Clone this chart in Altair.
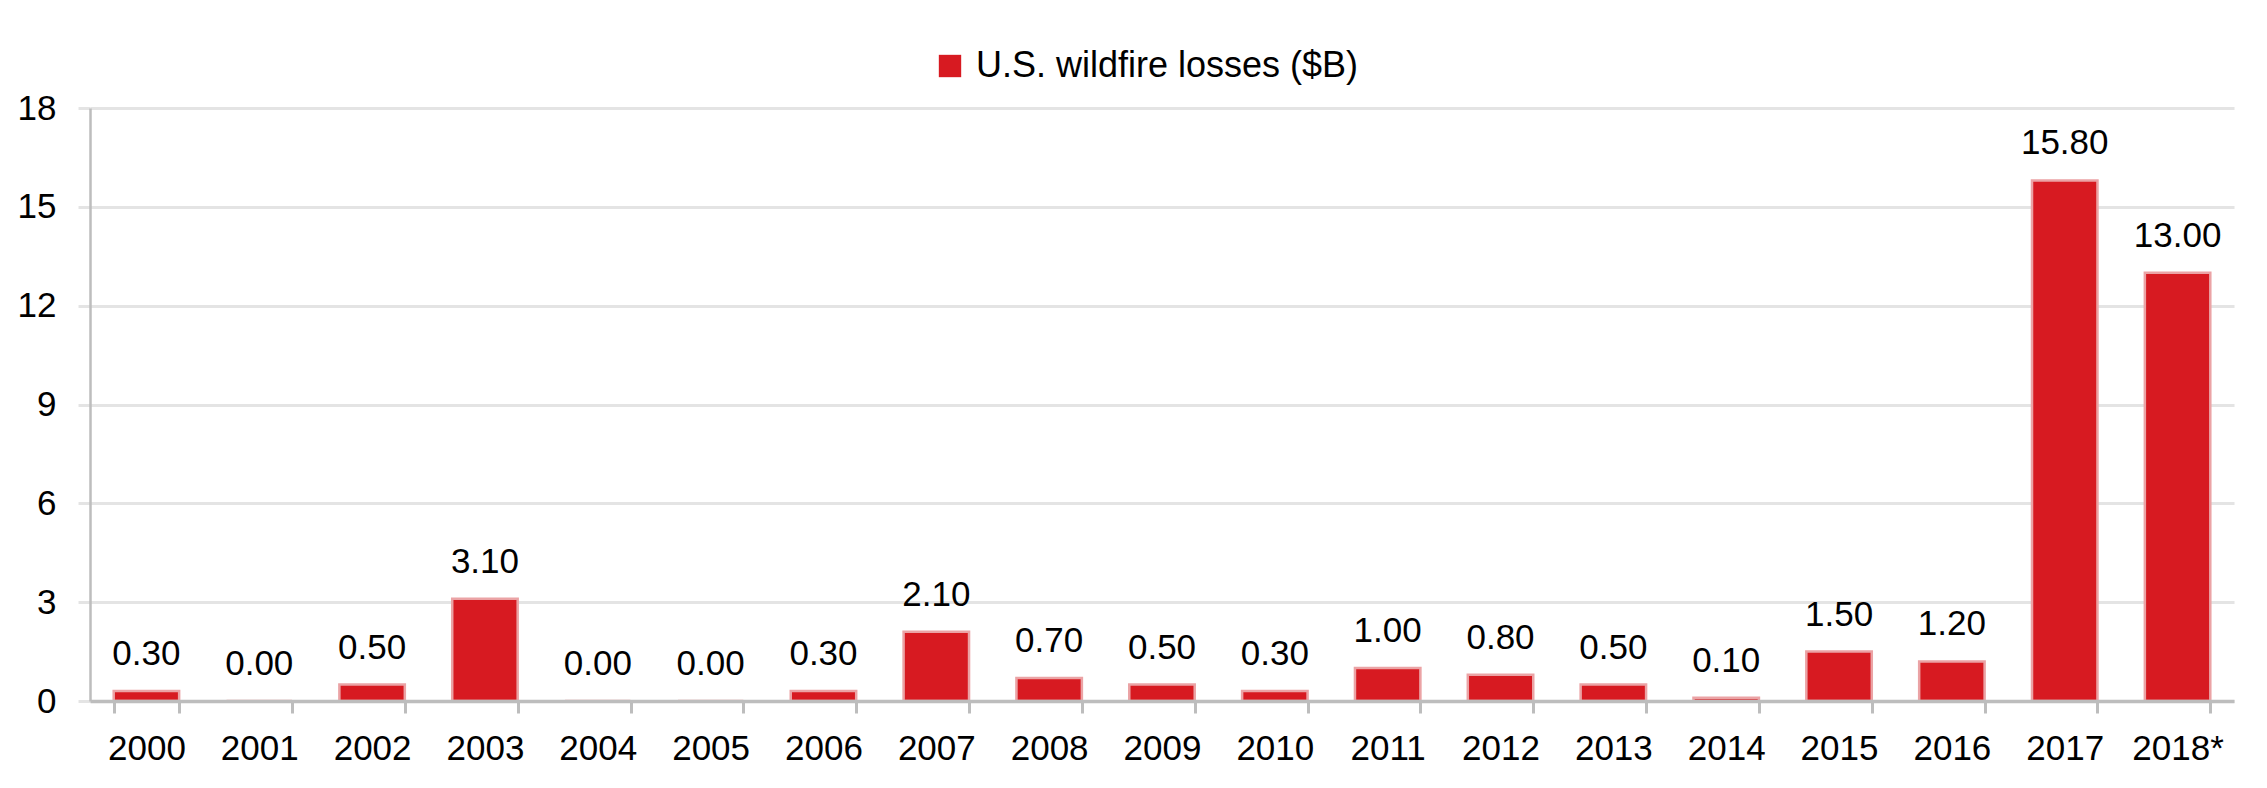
import altair as alt
import pandas as pd

years = ["2000", "2001", "2002", "2003", "2004", "2005", "2006", "2007", "2008", "2009",
         "2010", "2011", "2012", "2013", "2014", "2015", "2016", "2017", "2018*"]
losses = [0.30, 0.00, 0.50, 3.10, 0.00, 0.00, 0.30, 2.10, 0.70, 0.50,
          0.30, 1.00, 0.80, 0.50, 0.10, 1.50, 1.20, 15.80, 13.00]
series_name = "U.S. wildfire losses ($B)"
y_ticks = [0, 3, 6, 9, 12, 15, 18]

df = pd.DataFrame({"year": years, "loss": losses, "series": [series_name] * len(years)})

FONT = "Liberation Sans"
RED = "#d71a21"
AXIS_GRAY = "#bdbdbd"
GRID_GRAY = "#e4e4e4"

base = alt.Chart(df)

x_enc = alt.X(
    "year:N",
    sort=years,
    title=None,
    scale=alt.Scale(paddingInner=0.42, paddingOuter=0.21),
    axis=alt.Axis(
        labelAngle=0,
        labelFont=FONT,
        labelFontSize=35,
        labelColor="#000000",
        labelPadding=18,
        domainColor=AXIS_GRAY,
        domainWidth=3.5,
        tickColor=AXIS_GRAY,
        tickWidth=3,
        tickSize=12,
        tickBand="extent",
        grid=False,
        zindex=1,
    ),
)

bars = base.mark_bar(stroke="#eba3a5", strokeWidth=2.5).encode(
    x=x_enc,
    y=alt.Y(
        "loss:Q",
        title=None,
        scale=alt.Scale(domain=[0, 18], nice=False),
        axis=alt.Axis(
            values=y_ticks,
            labelFont=FONT,
            labelFontSize=35,
            labelColor="#000000",
            labelPadding=22,
            domain=True,
            domainColor=AXIS_GRAY,
            domainWidth=2.5,
            tickColor=GRID_GRAY,
            tickWidth=3,
            tickSize=12,
            grid=True,
            gridColor=GRID_GRAY,
            gridWidth=3,
        ),
    ),
    color=alt.Color(
        "series:N",
        title=None,
        scale=alt.Scale(domain=[series_name], range=[RED]),
        legend=alt.Legend(
            orient="none",
            legendX=842,
            legendY=-60,
            direction="horizontal",
            symbolType="square",
            symbolSize=500,
            symbolStrokeWidth=0,
            labelFont=FONT,
            labelFontSize=36,
            labelColor="#000000",
            labelOffset=8,
            labelLimit=0,
            padding=0,
        ),
    ),
)

labels = base.mark_text(
    font=FONT, fontSize=35, color="#000000", baseline="alphabetic", dy=-26
).encode(
    x=alt.X("year:N", sort=years),
    y=alt.Y("loss:Q"),
    text=alt.Text("loss:Q", format=".2f"),
)

chart = (
    alt.layer(bars, labels)
    .properties(
        width=2144,
        height=593,
        autosize=alt.AutoSizeParams(type="none"),
        padding={"left": 82, "top": 100, "right": 15, "bottom": 70},
        background="#ffffff",
    )
    .configure_view(stroke=None)
)

chart.save("out.html", embed_options={"renderer": "svg", "actions": False})
